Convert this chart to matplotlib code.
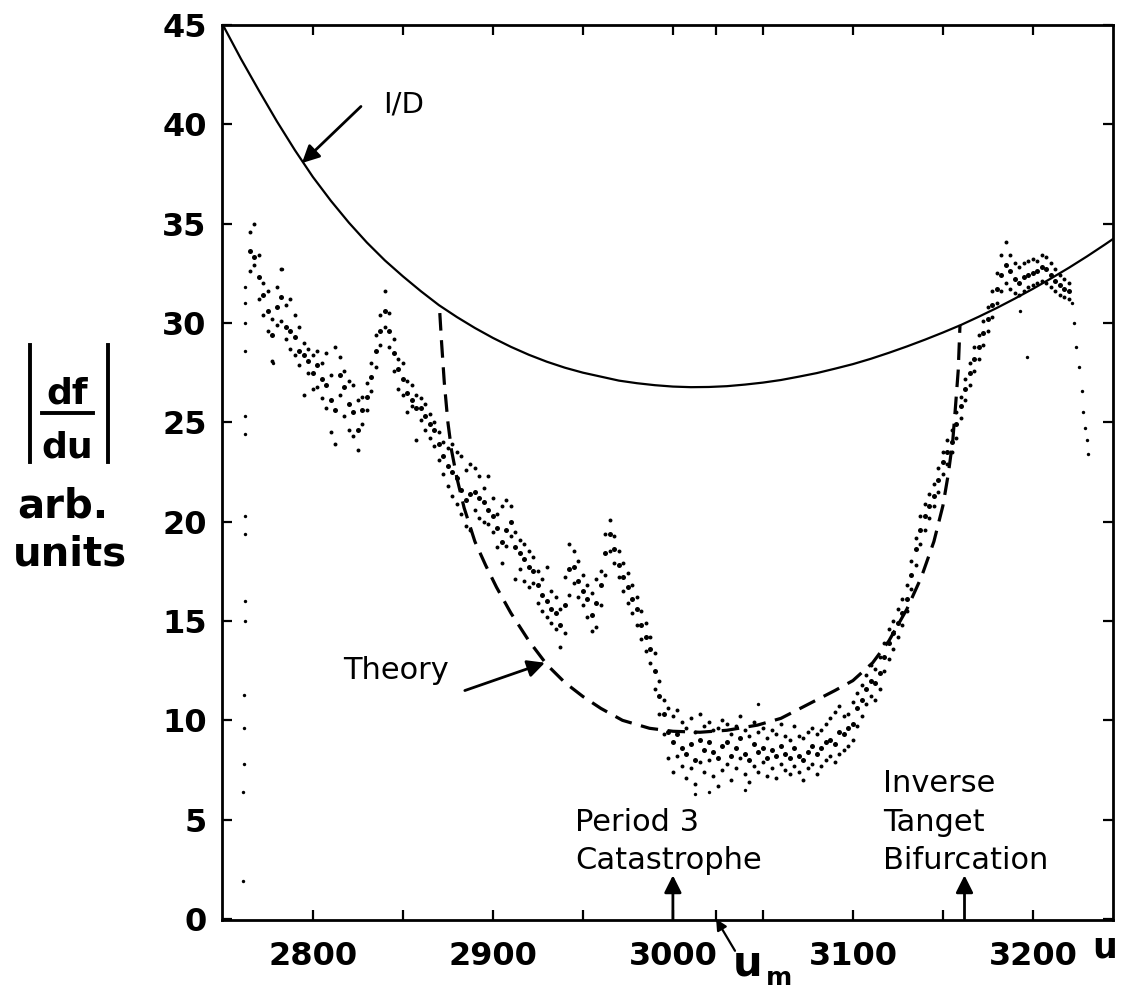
import matplotlib
matplotlib.use("Agg")
import matplotlib.pyplot as plt
import numpy as np

W, H = 1133, 993

# I/D envelope curve
id_u = [2750, 2760, 2770, 2780, 2790, 2800, 2810, 2820, 2830, 2840, 2850, 2860, 2870,
        2880, 2890, 2900, 2910, 2920, 2930, 2940, 2950, 2960, 2970, 2980, 2990, 3000,
        3010, 3020, 3030, 3040, 3050, 3060, 3070, 3080, 3090, 3100, 3110, 3120, 3130,
        3140, 3150, 3160, 3170, 3180, 3190, 3200, 3210, 3220, 3230, 3240, 3245]
id_f = [45.0, 43.3, 41.7, 40.15, 38.7, 37.35, 36.15, 35.05, 34.05, 33.15, 32.35, 31.6, 30.9,
        30.3, 29.75, 29.25, 28.8, 28.4, 28.05, 27.75, 27.5, 27.3, 27.1, 26.97, 26.87, 26.8,
        26.77, 26.78, 26.82, 26.9, 27.0, 27.13, 27.3, 27.48, 27.7, 27.93, 28.2, 28.5, 28.82,
        29.16, 29.52, 29.9, 30.32, 30.76, 31.23, 31.72, 32.24, 32.78, 33.35, 33.95, 34.26]

# theory curve
theory_u = [2870.5, 2871.5, 2873, 2875, 2877, 2880, 2884, 2890, 2896, 2902, 2910, 2920, 2930,
            2940, 2950, 2960, 2972, 2987, 3000, 3015, 3030, 3047, 3060, 3075, 3090, 3100,
            3111, 3120, 3130, 3138, 3145, 3150, 3153, 3155.5, 3157, 3158.5, 3159.5]
theory_f = [30.5, 29.0, 27.0, 25.0, 23.6, 22.2, 20.7, 19.0, 17.8, 16.7, 15.4, 14.0, 12.8,
            11.9, 11.2, 10.6, 10.0, 9.6, 9.45, 9.4, 9.5, 9.76, 10.1, 10.8, 11.5, 12.0,
            12.9, 14.0, 15.6, 17.2, 19.0, 20.8, 22.4, 24.1, 25.8, 27.6, 29.9]

# measured |df/du|: lower / middle / upper edge of the dot cloud, every 2.5 in u
obs_u = [2765 + 2.5 * i for i in range(183)]
obs_lo = [32.6, 32.9, 31.2, 30.4, 29.6, 28.1, 29.9, 30.1, 29.2, 28.7, 28.4, 27.9, 26.4, 27.5,
          26.7, 26.8, 26.2, 25.7, 24.5, 23.9, 26.4, 25.3, 24.6, 24.3, 23.6, 24.9, 25.6, 26.6,
          27.8, 28.9, 29.8, 28.8, 27.6, 26.7, 26.4, 25.5, 25.8, 24.1, 25.1, 24.6, 24.2, 23.8,
          23.1, 22.4, 21.8, 21.3, 20.9, 20.4, 19.8, 19.6, 20.6, 20.2, 20.0, 19.9, 19.5, 18.7,
          17.9, 18.8, 19.3, 17.1, 17.6, 17.0, 16.7, 16.9, 15.9, 15.5, 15.2, 14.9, 14.6, 13.7,
          14.4, 16.3, 16.9, 16.2, 15.8, 15.2, 14.5, 14.7, 15.8, 17.3, 18.5, 17.9, 17.2, 16.5,
          15.9, 15.4, 14.8, 14.1, 13.5, 12.9, 11.6, 10.3, 9.3, 8.1, 7.4, 8.2, 7.7, 7.1,
          7.6, 6.8, 7.9, 7.4, 8.0, 7.2, 6.7, 7.5, 7.8, 7.0, 7.6, 8.1, 7.3, 6.9,
          7.7, 7.4, 7.9, 7.2, 7.6, 7.1, 7.8, 7.5, 7.3, 7.7, 7.4, 7.0, 7.6, 7.8,
          7.3, 7.7, 8.0, 8.2, 7.9, 8.3, 8.5, 8.7, 9.0, 9.7, 10.2, 10.8, 11.2, 11.0,
          11.6, 12.5, 13.1, 13.6, 14.2, 14.8, 15.5, 16.6, 17.8, 18.9, 19.6, 20.2, 20.8, 21.5,
          22.4, 22.9, 23.5, 24.2, 25.2, 26.1, 26.9, 27.6, 28.2, 28.9, 29.6, 30.3, 31.0, 31.6,
          32.0, 31.7, 31.5, 31.4, 31.6, 31.8, 31.9, 32.0, 32.1, 32.0, 31.8, 31.6, 31.4, 31.3,
          31.2]
obs_mid = [33.6, 33.3, 32.3, 31.4, 30.6, 29.4, 30.8, 31.3, 29.8, 29.6, 29.3, 28.6, 28.4, 28.1,
           27.5, 27.9, 27.2, 26.9, 26.1, 25.6, 27.4, 26.8, 25.9, 25.5, 24.6, 25.6, 26.3, 27.3,
           28.6, 29.6, 30.6, 29.6, 28.5, 27.7, 27.2, 26.5, 26.1, 25.7, 25.7, 25.3, 24.9, 24.6,
           23.9, 23.3, 22.8, 22.5, 22.2, 21.6, 21.1, 21.4, 21.5, 21.2, 21.0, 20.6, 20.3, 19.7,
           19.0, 19.6, 20.0, 18.7, 18.4, 18.1, 17.7, 17.5, 16.8, 16.3, 16.0, 15.6, 15.4, 14.8,
           15.8, 17.6, 17.7, 17.0, 16.5, 16.1, 15.3, 15.9, 16.8, 18.4, 19.4, 18.6, 17.8, 17.2,
           16.7, 16.1, 15.6, 14.8, 14.2, 13.6, 12.5, 11.2, 10.3, 9.4, 8.9, 9.3, 8.6, 8.3,
           8.8, 8.0, 9.0, 8.5, 8.9, 8.4, 8.1, 8.7, 8.9, 8.2, 8.6, 9.1, 8.3, 8.0,
           8.8, 8.4, 8.6, 8.1, 8.5, 8.2, 8.7, 8.3, 8.1, 8.6, 8.2, 8.0, 8.4, 8.7,
           8.3, 8.6, 8.9, 9.0, 8.8, 9.4, 9.3, 9.6, 9.8, 10.6, 11.0, 11.6, 12.0, 11.9,
           12.4, 13.2, 13.9, 14.4, 14.9, 15.4, 16.1, 17.3, 18.6, 19.6, 20.3, 20.8, 21.3, 22.1,
           23.0, 23.5, 24.0, 24.9, 25.8, 26.7, 27.5, 28.2, 28.8, 29.5, 30.2, 30.9, 31.7, 32.4,
           32.9, 32.6, 32.2, 32.0, 32.3, 32.4, 32.5, 32.6, 32.8, 32.7, 32.4, 32.1, 31.9, 31.7,
           31.6]
obs_hi = [34.6, 35.0, 33.4, 32.0, 31.6, 30.2, 31.8, 32.7, 30.9, 31.2, 30.4, 29.8, 29.0, 28.7,
          28.4, 28.6, 28.0, 28.5, 27.4, 28.8, 28.3, 27.6, 27.1, 26.9, 26.1, 26.3, 27.0, 28.0,
          29.4, 30.4, 31.6, 30.5, 29.2, 28.2, 28.0, 27.1, 26.9, 26.4, 26.2, 25.9, 25.4, 25.0,
          24.5, 24.0, 23.7, 23.9, 23.5, 23.3, 22.6, 22.9, 22.7, 22.3, 21.7, 22.3, 21.2, 20.4,
          20.8, 21.1, 20.8, 19.5, 19.1, 18.9, 18.5, 18.2, 17.5, 17.1, 17.7, 16.5, 16.2, 15.6,
          17.2, 18.9, 18.5, 18.0, 17.3, 16.8, 16.4, 17.1, 17.5, 19.4, 20.1, 19.3, 18.5, 17.9,
          17.4, 16.8, 16.2, 15.5, 14.9, 14.2, 13.4, 12.0, 11.0, 10.6, 10.2, 10.5, 9.9, 9.6,
          10.1, 9.4, 10.3, 9.7, 9.9, 9.5, 9.6, 10.0, 9.8, 9.3, 9.7, 10.2, 9.5, 9.2,
          9.9, 9.4, 9.6, 9.1, 9.5, 9.3, 9.8, 9.2, 9.0, 9.7, 9.2, 9.1, 9.4, 9.6,
          9.3, 9.5, 9.8, 10.1, 10.4, 10.7, 10.2, 10.3, 10.9, 11.4, 11.8, 12.3, 12.8, 12.6,
          13.2, 13.9, 14.6, 15.0, 15.6, 16.1, 16.8, 18.0, 19.2, 20.3, 20.9, 21.4, 21.9, 22.7,
          23.5, 24.1, 24.6, 25.5, 26.3, 27.2, 28.0, 28.8, 29.4, 30.1, 30.8, 31.6, 32.5, 33.4,
          34.1, 33.4, 33.0, 32.8, 33.0, 33.1, 33.2, 33.1, 33.4, 33.3, 33.0, 32.7, 32.4, 32.2,
          32.0]

# isolated dots: left edge column, falling tail at the right end, strays
stray_u = [2762, 2762, 2762, 2762, 2762, 2762, 2762, 2762, 2762, 2762, 2761.5, 2761.5,
           2761.5, 2761, 2761, 2782.6, 2778, 3193, 3196.7, 3020, 3040, 3047, 3012,
           3221.7, 3223, 3224, 3225.5, 3227, 3228, 3229, 3230, 3230.6]
stray_f = [31.8, 31.0, 30.0, 28.6, 25.3, 24.4, 20.3, 19.4, 16.0, 15.0, 11.3, 9.6,
           7.8, 6.4, 1.9, 32.7, 28.0, 30.6, 28.3, 6.4, 6.5, 10.8, 6.3,
           31.0, 30.0, 28.8, 27.8, 26.6, 25.5, 24.7, 24.1, 23.4]

x_major = [2800, 2900, 3000, 3100, 3200]
x_minor = [2850, 2950, 3024, 3050, 3150]
y_ticks = list(range(0, 50, 5))


def fig_xy(px, py):
    return px / W, 1 - py / H


plt.rcParams["font.family"] = ["DejaVu Sans"]
fig = plt.figure(figsize=(W / 100, H / 100), dpi=100)
ax = fig.add_axes([222 / W, 1 - 920 / H, (1113 - 222) / W, (920 - 25) / H])

ax.plot(id_u, id_f, color="black", lw=1.6, solid_capstyle="butt")
ax.plot(theory_u, theory_f, color="black", lw=2.3, dashes=(5.5, 3.0))
ax.scatter(obs_u, obs_lo, s=8, color="black", linewidths=0)
ax.scatter(obs_u, obs_mid, s=13, color="black", linewidths=0)
ax.scatter(obs_u, obs_hi, s=8, color="black", linewidths=0)
ax.scatter(stray_u, stray_f, s=6, color="black", linewidths=0)

ax.set_xlim(2749.5, 3244.5)
ax.set_ylim(-0.05, 45)
ax.set_xticks(x_major)
ax.set_xticks(x_minor, minor=True)
ax.set_yticks(y_ticks)
ax.tick_params(which="both", direction="in", length=7, width=1.6,
               top=True, right=True, labelsize=23)
ax.tick_params(axis="x", pad=15)
ax.tick_params(axis="y", pad=11)
for lab in ax.get_xticklabels() + ax.get_yticklabels():
    lab.set_fontweight("bold")
for sp in ax.spines.values():
    sp.set_linewidth(2.0)

arrow = dict(arrowstyle="-|>", color="black", lw=2.0, mutation_scale=26,
             shrinkA=0, shrinkB=0)

# I/D label
ax.text(2850.5, 41.0, "I/D", fontsize=21, ha="center", va="center")
ax.annotate("", xy=(2793.9, 38.05), xytext=(2826.7, 40.9), arrowprops=arrow)

# Theory label
ax.text(2846, 12.1, "Theory", fontsize=22, ha="center", va="baseline")
ax.annotate("", xy=(2928.9, 12.9), xytext=(2884.4, 11.5), arrowprops=arrow)

# Period 3 Catastrophe
ax.text(2945.6, 4.43, "Period 3", fontsize=22, ha="left", va="baseline")
ax.text(2945.6, 2.5, "Catastrophe", fontsize=22, ha="left", va="baseline")
ax.annotate("", xy=(3000, 2.2), xytext=(3000, 0), arrowprops=arrow)

# Inverse Tangent Bifurcation
ax.text(3117, 6.4, "Inverse", fontsize=22, ha="left", va="baseline")
ax.text(3117, 4.43, "Tanget", fontsize=22, ha="left", va="baseline")
ax.text(3117, 2.5, "Bifurcation", fontsize=22, ha="left", va="baseline")
ax.annotate("", xy=(3162, 2.2), xytext=(3162, 0), arrowprops=arrow)

# u_m marker below the axis
ax.annotate("", xy=(3024, 0), xytext=(3034.5, -1.6), annotation_clip=False,
            arrowprops=dict(arrowstyle="-|>", color="black", lw=1.6,
                            mutation_scale=16, shrinkA=0, shrinkB=0))
fig.text(*fig_xy(733, 975), "u", fontsize=30, fontweight="bold", ha="left", va="baseline")
fig.text(*fig_xy(766, 985), "m", fontsize=18, fontweight="bold", ha="left", va="baseline")

# x-axis name
fig.text(*fig_xy(1092, 958), "u", fontsize=25, fontweight="bold", ha="left", va="baseline")

# y-axis label |df/du| arb. units
fig.text(*fig_xy(67, 404), "df", fontsize=26, fontweight="bold", ha="center", va="baseline")
fig.text(*fig_xy(67, 458), "du", fontsize=26, fontweight="bold", ha="center", va="baseline")
for (x0, y0, x1, y1) in [(42, 413, 93, 413), (30, 345, 30, 462), (108, 345, 108, 462)]:
    fx0, fy0 = fig_xy(x0, y0)
    fx1, fy1 = fig_xy(x1, y1)
    fig.add_artist(plt.Line2D([fx0, fx1], [fy0, fy1], color="black", lw=2.8,
                              transform=fig.transFigure))
fig.text(*fig_xy(63, 518), "arb.", fontsize=29, fontweight="bold", ha="center", va="baseline")
fig.text(*fig_xy(70, 565), "units", fontsize=29, fontweight="bold", ha="center", va="baseline")

fig.savefig("out.png", dpi=100)
